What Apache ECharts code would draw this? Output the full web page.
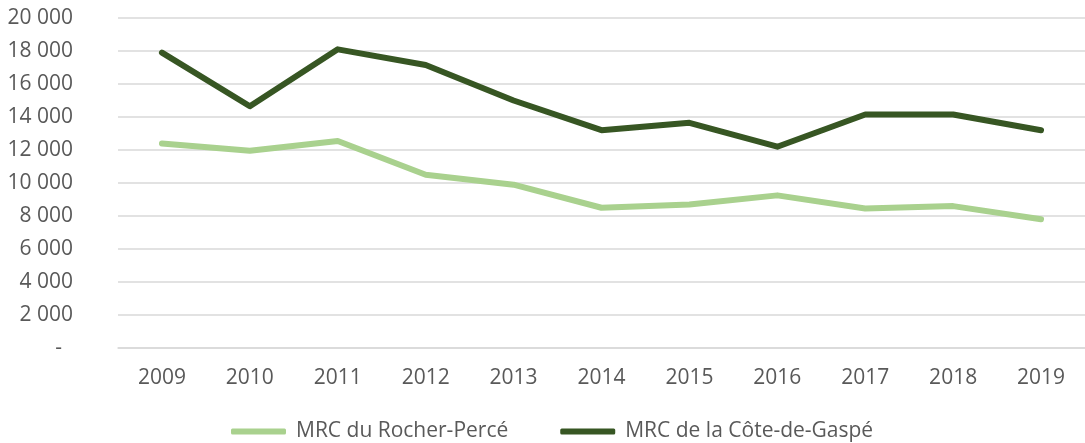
<!DOCTYPE html>
<html>
<head>
<meta charset="utf-8">
<script src="https://cdn.jsdelivr.net/npm/echarts@6/dist/echarts.min.js"></script>
<style>
html, body { margin: 0; padding: 0; background: #fff; }
#main { width: 1085px; height: 443px; }
</style>
</head>
<body>
<div id="main"></div>
<script>
var years = ['2009','2010','2011','2012','2013','2014','2015','2016','2017','2018','2019'];
var rocherPerce = [12400, 11950, 12550, 10500, 9900, 8500, 8700, 9250, 8450, 8600, 7800];
var coteDeGaspe = [17900, 14650, 18100, 17150, 15000, 13200, 13650, 12200, 14150, 14150, 13200];
var seriesNames = ['MRC du Rocher-Percé', 'MRC de la Côte-de-Gaspé'];

var font = 'Open Sans';

function fmtNombre(v){
	// format comptable : espace pour les milliers, tiret pour zéro
	if(v === 0){
		return '-  ';
	}
	return String(v).replace(/\B(?=(\d{3})+(?!\d))/g, ' ');
}

var option = {
	animation: false,
	grid: {
		left: 118,
		top: 18,
		width: 970,
		height: 330
	},
	legend: {
		top: 416,
		left: 226,
		itemGap: 52,
		itemWidth: 55,
		itemHeight: 6,
		icon: 'roundRect',
		textStyle: {
			fontFamily: font,
			fontSize: 21,
			color: '#595959',
			padding: [0, 0, 0, 5]
		},
		data: seriesNames
	},
	xAxis: {
		type: 'category',
		data: years,
		boundaryGap: true,
		axisLine: { lineStyle: { color: '#d9d9d9', width: 1.5 } },
		axisTick: { show: false },
		axisLabel: {
			margin: 20,
			fontFamily: font,
			fontSize: 21,
			color: '#595959'
		}
	},
	yAxis: {
		type: 'value',
		min: 0,
		max: 20000,
		interval: 2000,
		axisLine: { show: false },
		axisTick: { show: false },
		splitLine: { lineStyle: { color: '#d9d9d9', width: 1.5 } },
		axisLabel: {
			margin: 45,
			fontFamily: font,
			fontSize: 21,
			color: '#595959',
			formatter: fmtNombre
		}
	},
	series: [
		{
			name: seriesNames[0],
			type: 'line',
			data: rocherPerce,
			showSymbol: false,
			symbol: 'none',
			itemStyle: { color: '#a9d18e' },
			lineStyle: { color: '#a9d18e', width: 6, cap: 'round', join: 'round' }
		},
		{
			name: seriesNames[1],
			type: 'line',
			data: coteDeGaspe,
			showSymbol: false,
			symbol: 'none',
			itemStyle: { color: '#375623' },
			lineStyle: { color: '#375623', width: 6, cap: 'round', join: 'round' }
		}
	]
};

var myChart = echarts.init(document.getElementById('main'));
myChart.setOption(option);
</script>
</body>
</html>
